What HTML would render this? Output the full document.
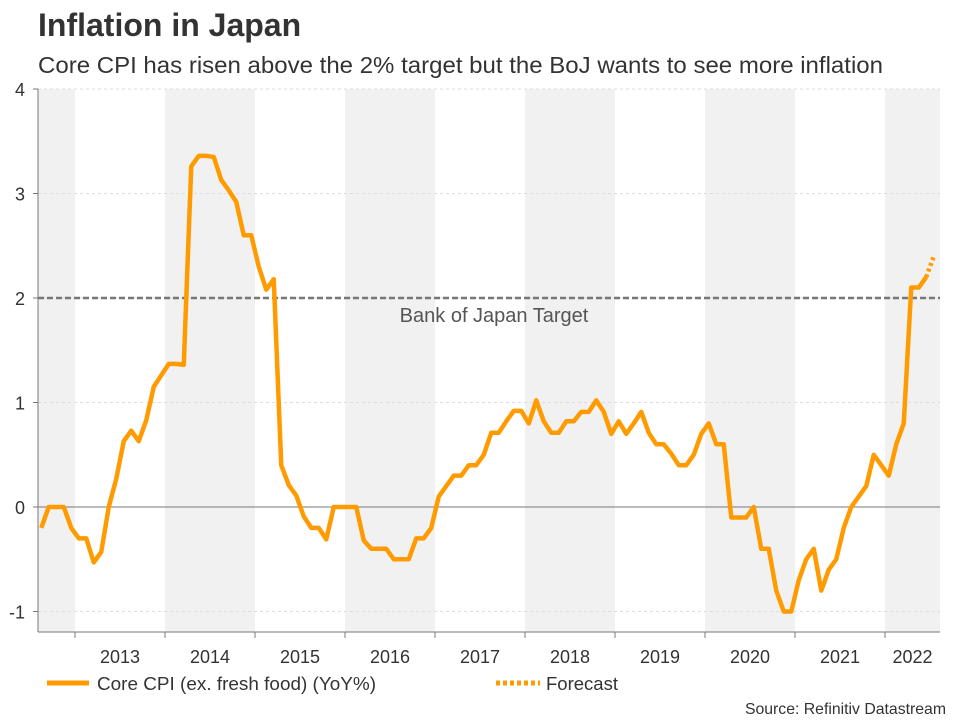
<!DOCTYPE html>
<html><head><meta charset="utf-8"><style>
body{margin:0;background:#fff;font-family:"Liberation Sans",Arial,sans-serif;}
svg{display:block}
</style></head><body>
<svg id="c" width="960" height="720">
<text x="38" y="36" font-size="32" font-weight="bold" fill="#333">Inflation in Japan</text>
<text x="38" y="73" font-size="23.5" fill="#333" textLength="845" lengthAdjust="spacingAndGlyphs">Core CPI has risen above the 2% target but the BoJ wants to see more inflation</text>
<g id="bands"></g><g id="grid"></g><g id="axes"></g><g id="series"></g>
<g>
<line x1="47" y1="683" x2="89" y2="683" stroke="#ff9b00" stroke-width="5"/>
<text x="97" y="690" font-size="18.5" fill="#333" textLength="279" lengthAdjust="spacingAndGlyphs">Core CPI (ex. fresh food) (YoY%)</text>
<line x1="496" y1="683" x2="540" y2="683" stroke="#ff9b00" stroke-width="5" stroke-dasharray="4,3"/>
<text x="546" y="690" font-size="18.5" fill="#333">Forecast</text>
</g>
<text x="946" y="714" font-size="15.8" fill="#333" text-anchor="end">Source: Refinitiv Datastream</text>
</svg>
<script>
const values=[-0.2,0,0,0,-0.2,-0.3,-0.3,-0.53,-0.43,0,0.27,0.63,0.73,0.63,0.83,1.15,1.26,1.37,1.37,1.36,3.26,3.36,3.36,3.35,3.13,3.03,2.92,2.6,2.6,2.3,2.08,2.18,0.4,0.21,0.11,-0.09,-0.2,-0.2,-0.31,0,0,0,0,-0.32,-0.4,-0.4,-0.4,-0.5,-0.5,-0.5,-0.3,-0.3,-0.2,0.1,0.2,0.3,0.3,0.4,0.4,0.5,0.71,0.71,0.82,0.92,0.92,0.8,1.02,0.82,0.71,0.71,0.82,0.82,0.91,0.91,1.02,0.91,0.7,0.82,0.7,0.8,0.91,0.71,0.6,0.6,0.51,0.4,0.4,0.5,0.7,0.8,0.6,0.6,-0.1,-0.1,-0.1,0,-0.4,-0.4,-0.8,-1.0,-1.0,-0.7,-0.5,-0.4,-0.8,-0.6,-0.5,-0.2,0,0.1,0.2,0.5,0.4,0.3,0.6,0.8,2.1,2.1,2.2];
const forecast=[2.2,2.4];
const startYear=2012, startMonth=8;
const years=[2012,2013,2014,2015,2016,2017,2018,2019,2020,2021,2022];
const yTicks=[-1,0,1,2,3,4];
const target=2;
const NS="http://www.w3.org/2000/svg";
const L=38,R=940,T=89,B=632;
function x(yearFrac){return 75+(yearFrac-2013)*90;}
function xi(i){const m=startMonth-1+i;return x(startYear+(m+0.5)/12);}
function y(v){return 507-v*104.5;}
function mk(tag,attrs,parent){const e=document.createElementNS(NS,tag);for(const k in attrs)e.setAttribute(k,attrs[k]);document.getElementById(parent).appendChild(e);return e;}
years.forEach((yr,k)=>{
  const x0=Math.max(L,x(yr)),x1=Math.min(R,x(yr+1));
  if(k%2===0){const r=mk('rect',{x:x0,y:T,width:x1-x0,height:B-T,fill:'#f1f1f1'},'bands');
    
    }
  if(yr>=2013){const t=mk('text',{x:(x0+x1)/2,y:663,'font-size':18,fill:'#333','text-anchor':'middle'},'axes');t.textContent=yr;
    
    
    const tk=mk('line',{x1:x(yr),x2:x(yr),y1:B,y2:B+6,stroke:'#777'},'axes');
    
    }
});
yTicks.forEach(v=>{
  const g=mk('line',{x1:L,x2:R,y1:y(v),y2:y(v),stroke:v===0?'#777':'#ddd','stroke-width':1,'stroke-dasharray':v===0?'':'3,3'},'grid');
  
  
  const t=mk('text',{x:25,y:y(v)+7,'font-size':18,fill:'#333','text-anchor':'end'},'axes');t.textContent=v;
  
  
  const tk=mk('line',{x1:L-5,x2:L,y1:y(v),y2:y(v),stroke:'#777'},'axes');
  
  
});
const ax=mk('line',{x1:L,x2:L,y1:T,y2:B,stroke:'#777'},'axes');


const bx=mk('line',{x1:L,x2:R,y1:B,y2:B,stroke:'#777'},'axes');


const tl=mk('line',{x1:L,x2:R,y1:y(target),y2:y(target),stroke:'#777','stroke-width':2.5,'stroke-dasharray':'6,3'},'series');


const tt=mk('text',{x:494,y:y(target)+24,'font-size':20,fill:'#555','text-anchor':'middle'},'series');tt.textContent='Bank of Japan Target';


const p=mk('polyline',{points:values.map((v,i)=>xi(i)+','+y(v)).join(' '),fill:'none',stroke:'#ff9b00','stroke-width':4.5,'stroke-linejoin':'round'},'series');


const f0=values.length-1;
const f=mk('polyline',{points:forecast.map((v,i)=>xi(f0+i)+','+y(v)).join(' '),fill:'none',stroke:'#ff9b00','stroke-width':4.5,'stroke-dasharray':'3,3'},'series');


</script>
</body></html>
